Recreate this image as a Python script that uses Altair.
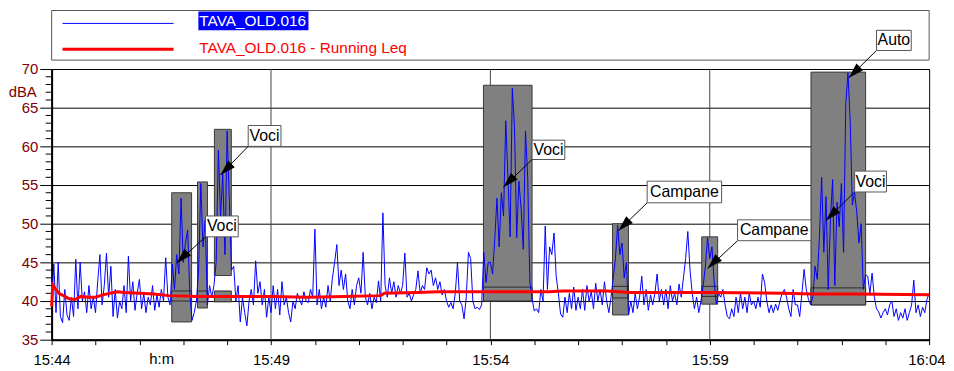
import altair as alt
import pandas as pd

# ---------------- data ----------------
START_MIN = 15 * 60 + 44          # 15:44
STEP_S = 3                        # sampling interval of the level series (s)

level_db = [
    # 15:44
    39.5, 44.8, 38.5, 45.0, 38.0, 37.2, 41.5, 38.2, 37.5, 40.5, 38.0, 45.4, 39.0, 45.0, 40.0, 41.2, 38.5, 42.0, 39.0, 40.5,
    # 15:45
    38.5, 42.5, 46.0, 39.5, 42.0, 46.2, 40.5, 44.5, 38.0, 41.5, 37.8, 40.0, 39.0, 42.0, 38.5, 45.8, 40.0, 42.5, 38.8, 41.0,
    # 15:46
    42.8, 39.0, 41.0, 38.5, 40.5, 39.5, 42.0, 38.8, 40.8, 39.2, 41.5, 40.0, 45.6, 40.5, 39.5, 44.8, 41.5, 46.0, 43.5, 53.3,
    # 15:47
    45.0, 47.5, 49.2, 41.0, 37.5, 38.5, 40.0, 44.0, 55.2, 47.0, 50.5, 39.5, 42.0, 40.5, 42.0, 45.0, 59.5, 51.0, 56.5, 46.0,
    # 15:48
    62.0, 53.0, 44.0, 44.5, 40.0, 42.0, 37.3, 40.5, 38.5, 36.8, 40.0, 41.5, 39.5, 45.2, 41.0, 42.5, 39.5, 41.5, 37.9, 40.5,
    # 15:49
    38.5, 42.0, 39.0, 41.5, 38.2, 42.5, 39.5, 40.5, 38.5, 37.3, 40.0, 39.0, 41.0, 40.2, 39.5, 41.2, 40.0, 39.8, 41.5, 40.5,
    # 15:50
    49.3, 39.5, 41.5, 39.0, 40.5, 39.2, 42.0, 40.0, 43.0, 45.0, 47.3, 42.0, 44.0, 41.5, 43.5, 40.0, 39.0, 41.5, 39.5, 42.0,
    # 15:51
    43.0, 41.0, 46.3, 40.5, 39.5, 41.0, 39.0, 40.5, 39.8, 42.6, 40.0, 51.4, 42.0, 40.5, 43.0, 41.0, 42.5, 40.5, 42.0, 41.0,
    # 15:52
    42.0, 46.2, 40.5, 41.0, 40.0, 40.8, 41.5, 43.9, 41.0, 42.0, 41.5, 44.3, 43.5, 44.0, 42.0, 43.0, 41.5, 42.5, 40.8, 41.5,
    # 15:53
    40.0, 39.2, 39.8, 39.0, 41.0, 45.0, 40.0, 39.5, 37.7, 40.5, 46.3, 45.5, 40.0, 39.0, 39.2, 38.9, 39.5, 46.3, 42.4, 45.0,
    # 15:54
    45.0, 43.5, 48.0, 53.3, 47.0, 54.0, 51.0, 63.3, 56.0, 48.3, 67.5, 62.4, 48.2, 55.5, 52.0, 46.7, 62.0, 56.0, 42.4, 40.3,
    # 15:55
    38.7, 39.0, 38.5, 41.5, 40.0, 49.7, 41.5, 47.0, 46.0, 48.8, 43.2, 41.0, 38.3, 37.9, 40.5, 38.5, 41.0, 39.0, 41.8, 38.8,
    # 15:56
    40.5, 39.0, 41.5, 38.8, 42.0, 40.0, 41.2, 39.0, 42.3, 40.0, 41.5, 39.5, 42.5, 40.0, 38.5, 40.5, 43.0, 45.5, 49.8, 46.0,
    # 15:57
    47.5, 43.0, 45.0, 38.2, 40.0, 38.5, 41.0, 39.0, 40.5, 43.2, 39.5, 41.5, 38.8, 40.8, 39.5, 41.0, 43.5, 40.0, 41.5, 39.5,
    # 15:58
    41.5, 39.0, 42.0, 40.0, 41.0, 39.5, 42.2, 40.5, 43.0, 45.5, 49.0, 44.0, 41.0, 39.0, 40.5, 38.5, 40.0, 42.0, 44.5, 48.2,
    # 15:59
    45.5, 47.0, 42.5, 39.6, 41.0, 40.5, 41.5, 39.5, 38.0, 37.7, 39.0, 38.0, 40.5, 38.5, 41.0, 39.0, 40.5, 38.5, 41.0, 39.5,
    # 16:00
    40.0, 39.0, 40.5, 39.2, 43.5, 42.4, 40.0, 38.5, 39.5, 38.5, 39.6, 38.8, 40.0, 41.0, 41.5, 40.5, 39.0, 38.0, 41.5, 39.5,
    # 16:01
    39.5, 38.0, 41.0, 44.1, 41.5, 40.2, 39.5, 40.6, 44.5, 42.8, 48.3, 56.0, 46.3, 53.5, 41.5, 50.5, 55.7, 42.0, 52.8, 49.6,
    # 16:02
    55.2, 46.3, 65.5, 69.5, 63.3, 52.4, 54.0, 51.5, 47.5, 50.0, 41.5, 43.4, 43.2, 41.0, 43.6, 40.5, 39.0, 38.6, 37.8, 38.5,
    # 16:03 - 16:04
    39.0, 38.2, 39.5, 40.0, 38.0, 39.0, 37.5, 38.5, 37.8, 39.0, 37.5, 38.5, 39.5, 42.7, 38.5, 39.5, 38.0, 39.2, 38.5, 40.2, 41.0,
]
time_s = [i * STEP_S for i in range(len(level_db))]

leq_time_s = [0, 1.5, 5, 10, 18, 24, 32, 40, 50, 60, 70, 80, 90, 100, 120, 140, 160, 200,
              300, 350, 400, 450, 455, 500, 530, 600, 680, 700, 760, 790, 900, 1000, 1040, 1100, 1200]
leq_db = [39.3, 42.1, 41.6, 41.0, 40.6, 40.3, 40.2, 40.6, 40.5, 40.5, 40.8, 41.0, 41.2, 41.1, 41.0, 40.9, 40.7, 40.6,
          40.6, 40.5, 40.6, 40.7, 41.0, 41.1, 41.2, 41.2, 41.2, 41.3, 41.3, 41.1, 41.1, 41.0, 40.9, 40.9, 40.8]

event_start_s = [164.2, 199.5, 222.6, 590.5, 767.0, 889.0, 1038.4]
event_end_s = [191.4, 213.1, 245.7, 657.0, 788.8, 910.8, 1113.1]
event_max_db = [54.0, 55.4, 62.2, 67.9, 50.0, 48.3, 69.6]
event_min_db = [37.3, 39.1, 43.3, 40.0, 38.2, 39.6, 39.5]
event_leq_hi = [41.3, 41.3, 41.3, 41.8, 41.9, 41.9, 41.7]
event_leq_lo = [40.0, 39.9, 39.9, 40.0, 40.4, 40.6, 39.5]

label_text = ["Voci", "Voci", "Voci", "Campane", "Campane", "Auto", "Voci"]
label_left_s = [268.8, 210.4, 657.0, 814.4, 938.0, 1128.0, 1098.1]
label_right_s = [313.6, 255.2, 701.8, 916.2, 1038.4, 1175.5, 1141.6]
label_top_db = [62.7, 51.0, 60.8, 55.5, 50.5, 75.0, 56.8]
label_bottom_db = [60.0, 48.3, 58.3, 52.7, 47.8, 72.4, 54.1]
arrow_tip_s = [230.8, 171.0, 617.6, 775.1, 897.0, 1090.0, 1058.8]
arrow_tip_db = [56.3, 44.9, 54.7, 49.1, 44.2, 68.85, 50.4]

y_major = [35, 40, 45, 50, 55, 60, 65, 70]
y_minor = [v for v in range(35, 71) if v % 5 != 0]
x_ticks = list(range(0, 1201, 60))
x_grid = [300, 600, 900]

# ---------------- layout ----------------
W, H = 885, 273
FONT = "Liberation Sans"
MAROON = "#800000"

xs = alt.Scale(domain=[0, 1200], nice=False, zero=False)
ys = alt.Scale(domain=[35, 70], nice=False, zero=False)

M = "(%d + datum.value/60)" % START_MIN
label_expr = ("datum.value % 300 == 0 ? (floor(" + M + "/60) + ':' + ((" + M + " % 60) < 10 ? '0' : '') + ("
              + M + " % 60)) : ''")

AX = alt.Axis(values=x_ticks, title=None, grid=False, tickSize=5, tickColor="black", domainColor="black",
              domainWidth=2, labelExpr=label_expr, labelFont=FONT, labelFontSize=15, labelColor="black",
              labelPadding=8, labelFlush=False, labelOverlap=False,
              labelAlign={"condition": {"test": "datum.value >= 1200", "value": "right"}, "value": "center"},
              labelOffset={"condition": {"test": "datum.value >= 1200", "value": 16}, "value": 0})
AY = alt.Axis(values=y_major, title=None, grid=True, gridColor="black", gridWidth=1, tickSize=12,
              tickColor="black", domainColor="black", domainWidth=2, labelFont=FONT, labelFontSize=15,
              labelColor=MAROON, labelPadding=2, labelFlush=False, labelOverlap=False)


def X(f):
    return alt.X(f, type="quantitative", scale=xs, axis=AX)


def Y(f):
    return alt.Y(f, type="quantitative", scale=ys, axis=AY)


one = pd.DataFrame({"k": [0]})

level_df = pd.DataFrame({"t": time_s, "db": level_db})
leq_df = pd.DataFrame({"t": leq_time_s, "db": leq_db})
ev_df = pd.DataFrame({"t0": event_start_s, "t1": event_end_s, "lo": event_min_db, "hi": event_max_db,
                      "blo": event_leq_lo, "bhi": event_leq_hi})
lab_df = pd.DataFrame({"txt": label_text, "l": label_left_s, "r": label_right_s, "top": label_top_db,
                       "bot": label_bottom_db, "tx": arrow_tip_s, "ty": arrow_tip_db})
lab_df["cx"] = (lab_df["l"] + lab_df["r"]) / 2
lab_df["cy"] = (lab_df["top"] + lab_df["bot"]) / 2

vgrid = alt.Chart(pd.DataFrame({"t": x_grid})).mark_rule(color="#444", strokeWidth=1).encode(x=X("t"))

minor = alt.Chart(pd.DataFrame({"db": y_minor})).mark_rule(color="black", strokeWidth=1).encode(
    x=alt.value(-6), x2=alt.value(0), y=Y("db"))

boxes = alt.Chart(ev_df).mark_rect(fill="#808080", stroke="#3a3a3a", strokeWidth=1).encode(
    x=X("t0"), x2="t1", y=Y("lo"), y2="hi")
bars = alt.Chart(ev_df).mark_rect(fill="#808080", stroke="#2a2a2a", strokeWidth=1).encode(
    x=X("t0"), x2="t1", y=Y("blo"), y2="bhi")

blue = alt.Chart(level_df).mark_line(color="#0000ff", strokeWidth=1).encode(x=X("t"), y=Y("db"))
red = alt.Chart(leq_df).mark_line(color="#ff0000", strokeWidth=3).encode(x=X("t"), y=Y("db"))

arrows = alt.Chart(lab_df).mark_rule(color="black", strokeWidth=1).encode(
    x=X("l"), y=Y("bot"), x2="tx", y2="ty")
heads = alt.Chart(lab_df).mark_point(
    shape="M0,0 L-0.3,1 L0.3,1 Z", filled=True, color="black", size=1000, angle=225, opacity=1,
    strokeWidth=0).encode(x=X("tx"), y=Y("ty"))
lab_box = alt.Chart(lab_df).mark_rect(fill="white", stroke="#555", strokeWidth=1).encode(
    x=X("l"), x2="r", y=Y("bot"), y2="top")
lab_txt = alt.Chart(lab_df).mark_text(font=FONT, fontSize=16, color="black", align="center",
                                      baseline="middle").encode(x=X("cx"), y=Y("cy"), text="txt:N")

# legend (drawn in the top padding)
LF = 15.5
leg_box = alt.Chart(one).mark_rect(fill="white", stroke="#555", strokeWidth=1).encode(
    x=alt.value(0), x2=alt.value(W), y=alt.value(-59), y2=alt.value(-9))
leg_blue = alt.Chart(one).mark_rule(color="#0000ff", strokeWidth=1).encode(
    x=alt.value(11), x2=alt.value(123), y=alt.value(-46))
leg_red = alt.Chart(one).mark_rule(color="#ff0000", strokeWidth=3).encode(
    x=alt.value(11), x2=alt.value(123), y=alt.value(-20))
leg_hl = alt.Chart(one).mark_rect(fill="#0000ff").encode(
    x=alt.value(148), x2=alt.value(259), y=alt.value(-58), y2=alt.value(-39))
leg_t1 = alt.Chart(one).mark_text(font=FONT, fontSize=LF, color="white", align="left", baseline="middle").encode(
    x=alt.value(149), y=alt.value(-48), text=alt.value("TAVA_OLD.016"))
leg_t2 = alt.Chart(one).mark_text(font=FONT, fontSize=LF, color="#ff0000", align="left", baseline="middle").encode(
    x=alt.value(149), y=alt.value(-21), text=alt.value("TAVA_OLD.016 - Running Leq"))

dba = alt.Chart(one).mark_text(font=FONT, fontSize=15, color=MAROON, align="right", baseline="middle").encode(
    x=alt.value(-15), y=alt.value(23), text=alt.value("dBA"))
hm = alt.Chart(one).mark_text(font=FONT, fontSize=15, color="black", align="center", baseline="top").encode(
    x=alt.value(111), y=alt.value(286), text=alt.value("h:m"))

chart = alt.layer(
    vgrid, minor, boxes, bars, blue, red,
    leg_box, leg_blue, leg_red, leg_hl, leg_t1, leg_t2, dba, hm,
    arrows, heads, lab_box, lab_txt,
).properties(
    width=W, height=H,
    background="white",
    autosize=alt.AutoSizeParams(type="none"),
    padding={"left": 44, "top": 60, "right": 17, "bottom": 28},
).configure_view(stroke="black", strokeWidth=1)

chart.save("out.html", embed_options={"renderer": "svg", "actions": False})
